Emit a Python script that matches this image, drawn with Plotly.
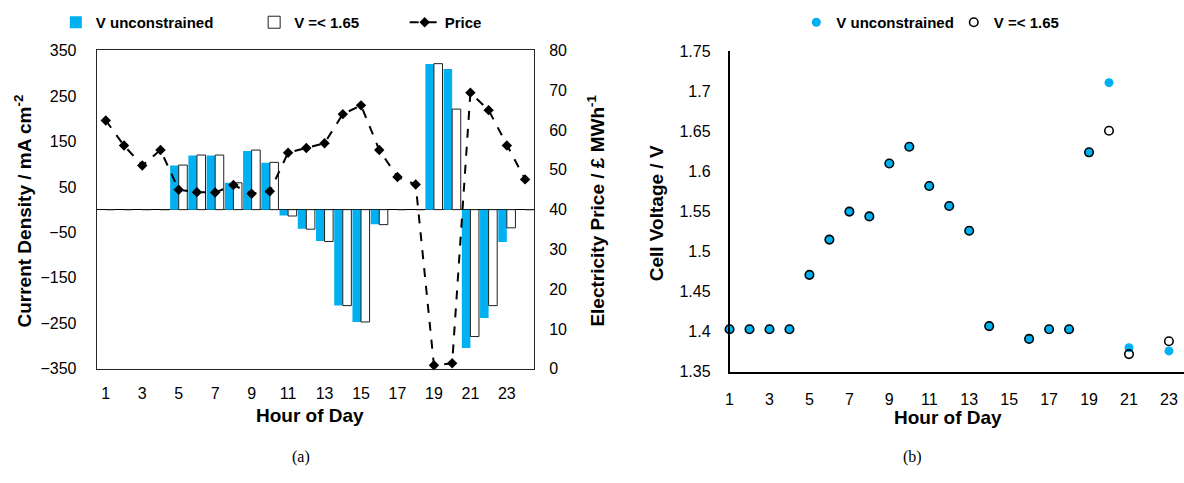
import plotly.graph_objects as go

# ---- data -------------------------------------------------------------
hours = list(range(1, 25))

# current density (mA cm-2) per hour
current_unconstrained = [0, 0, 0, 0, 97, 119, 119, 59, 129, 103, -13, -42,
                         -69, -211, -247, -32, 0, 0, 320, 309, -304, -238, -71, 0]
current_constrained = [0, 0, 0, 0, 98, 120, 120, 59, 131, 104, -14, -43,
                       -70, -211, -247, -33, 0, 0, 321, 221, -279, -211, -40, 0]

# electricity price (GBP / MWh)
price = [62.4, 56.1, 51.1, 55.0, 45.0, 44.4, 44.3, 46.2, 44.0, 44.6, 54.3, 55.5,
         56.7, 64.0, 66.2, 55.0, 48.2, 46.3, 0.9, 1.4, 69.4, 65.0, 56.1, 47.6]

# cell voltage (V) per hour, None where no point exists
voltage_unconstrained = [1.403, 1.403, 1.403, 1.403, 1.471, 1.515, 1.550, 1.544,
                         1.610, 1.631, 1.582, 1.557, 1.526, 1.407, None, 1.391,
                         1.403, 1.403, 1.624, 1.711, 1.380, None, 1.376, None]
voltage_constrained = [1.403, 1.403, 1.403, 1.403, 1.471, 1.515, 1.550, 1.544,
                       1.610, 1.631, 1.582, 1.557, 1.526, 1.407, None, 1.391,
                       1.403, 1.403, 1.624, 1.651, 1.372, None, 1.388, None]

current_ticks = [-350, -250, -150, -50, 50, 150, 250, 350]
price_ticks = [0, 10, 20, 30, 40, 50, 60, 70, 80]
voltage_ticks = [1.35, 1.4, 1.45, 1.5, 1.55, 1.6, 1.65, 1.7, 1.75]
voltage_ticktext = ["1.35", "1.4", "1.45", "1.5", "1.55", "1.6", "1.65", "1.7", "1.75"]
hour_ticks = list(range(1, 24, 2))

# ---- styling ----------------------------------------------------------
W, H = 1184, 483
BLUE = "#00B0F0"
SANS = "Liberation Sans, Arial, sans-serif"
SERIF = "Liberation Serif, Times New Roman, serif"
TICK_FONT = dict(family=SANS, size=16, color="black")
TITLE_FONT = dict(family=SANS, size=19, color="black")
LEGEND_FONT = dict(family=SANS, size=15, color="black")


def px_x(p):
    return p / W


def px_y(p):
    return 1 - p / H


fig = go.Figure()

# ---- panel (a): current density bars + price line -----------------------
fig.add_trace(go.Bar(
    x=hours, y=current_unconstrained, name="<b>V unconstrained</b>",
    marker=dict(color=BLUE, line=dict(width=0)),
    xaxis="x", yaxis="y", legend="legend",
))
fig.add_trace(go.Bar(
    x=hours, y=current_constrained, name="<b>V =< 1.65</b>",
    marker=dict(color="white", line=dict(color="#202020", width=1)),
    xaxis="x", yaxis="y", legend="legend2",
))
fig.add_trace(go.Scatter(
    x=hours, y=price, name="<b>Price</b>", mode="lines+markers",
    line=dict(color="black", width=2, dash="dash"),
    marker=dict(symbol="diamond", size=8, color="black"),
    xaxis="x", yaxis="y2", legend="legend3", cliponaxis=False,
))

# ---- panel (b): cell voltage scatter ----------------------------------
fig.add_trace(go.Scatter(
    x=hours, y=voltage_unconstrained, name="<b>V unconstrained</b>", mode="markers",
    marker=dict(symbol="circle", size=9, color=BLUE, line=dict(width=0)),
    xaxis="x2", yaxis="y3", legend="legend4", cliponaxis=False,
))
fig.add_trace(go.Scatter(
    x=hours, y=voltage_constrained, name="<b>V =< 1.65</b>", mode="markers",
    marker=dict(symbol="circle", size=8.5, color="rgba(0,0,0,0)",
                line=dict(color="black", width=1.6)),
    xaxis="x2", yaxis="y3", legend="legend5", cliponaxis=False,
))

# plot-area geometry in pixels
A_LEFT, A_RIGHT, A_TOP, A_BOTTOM = 93, 532, 44, 374
B_LEFT, B_RIGHT, B_TOP, B_BOTTOM = 728, 1184, 45, 377
B_SLOT = 20.04  # pixels per hour on panel (b)
b_xmax = 1 + (B_RIGHT - B_LEFT) / B_SLOT

legend_common = dict(orientation="h", yanchor="middle", y=px_y(15), xanchor="left",
                     font=LEGEND_FONT, bgcolor="rgba(0,0,0,0)", borderwidth=0,
                     itemclick=False, itemdoubleclick=False)

fig.update_layout(
    width=W, height=H, autosize=False,
    margin=dict(l=0, r=0, t=0, b=0),
    paper_bgcolor="white", plot_bgcolor="white",
    barmode="group", bargap=0.06, bargroupgap=0,
    showlegend=True,
    legend=dict(legend_common, x=px_x(52)),
    legend2=dict(legend_common, x=px_x(251)),
    legend3=dict(legend_common, x=px_x(402)),
    legend4=dict(legend_common, x=px_x(795)),
    legend5=dict(legend_common, x=px_x(953)),
    xaxis=dict(
        domain=[px_x(A_LEFT), px_x(A_RIGHT)], range=[0.5, 24.5],
        tickvals=hour_ticks, ticks="", tickfont=TICK_FONT,
        showgrid=False, zeroline=False,
        showline=True, linecolor="#262626", linewidth=1, mirror=True,
        anchor="y", ticklabelstandoff=10,
    ),
    yaxis=dict(
        domain=[px_y(A_BOTTOM), px_y(A_TOP)], range=[-350, 350],
        tickvals=current_ticks, ticks="", tickfont=TICK_FONT,
        showgrid=False, zeroline=True, zerolinecolor="black", zerolinewidth=1,
        showline=True, linecolor="#262626", linewidth=1, mirror=True,
        anchor="x", ticklabelstandoff=16,
    ),
    yaxis2=dict(
        range=[0, 80], tickvals=price_ticks, ticks="", tickfont=TICK_FONT,
        overlaying="y", side="right", anchor="x",
        showgrid=False, zeroline=False, showline=False, ticklabelstandoff=14,
    ),
    xaxis2=dict(
        domain=[px_x(B_LEFT), px_x(B_RIGHT)], range=[1, b_xmax],
        tickvals=hour_ticks, ticks="", tickfont=TICK_FONT,
        showgrid=False, zeroline=False,
        showline=True, linecolor="black", linewidth=1.5,
        anchor="y3", ticklabelstandoff=12,
    ),
    yaxis3=dict(
        domain=[px_y(B_BOTTOM), px_y(B_TOP)], range=[1.35, 1.75],
        tickvals=voltage_ticks, ticktext=voltage_ticktext, ticks="",
        tickfont=TICK_FONT, showgrid=False, zeroline=False,
        showline=True, linecolor="black", linewidth=1.5,
        anchor="x2", ticklabelstandoff=14,
    ),
)

# axis titles and panel captions
annotations = [
    dict(text="<b>Current Density / mA cm<sup>-2</sup></b>", x=px_x(19), y=px_y(210),
         textangle=-90, font=TITLE_FONT),
    dict(text="<b>Electricity Price / £ MWh<sup>-1</sup></b>", x=px_x(594), y=px_y(210),
         textangle=-90, font=TITLE_FONT),
    dict(text="<b>Hour of Day</b>", x=px_x(307), y=px_y(422), font=TITLE_FONT),
    dict(text="<b>Cell Voltage / V</b>", x=px_x(655), y=px_y(213),
         textangle=-90, font=TITLE_FONT),
    dict(text="<b>Hour of Day</b>", x=px_x(947), y=px_y(424), font=TITLE_FONT),
    dict(text="(a)", x=px_x(298), y=px_y(465), font=dict(family=SERIF, size=16, color="black")),
    dict(text="(b)", x=px_x(912), y=px_y(465), font=dict(family=SERIF, size=16, color="black")),
]
for a in annotations:
    a.update(xref="paper", yref="paper", showarrow=False, xanchor="center", yanchor="middle")
fig.update_layout(annotations=annotations)

fig.write_html("out.html")
